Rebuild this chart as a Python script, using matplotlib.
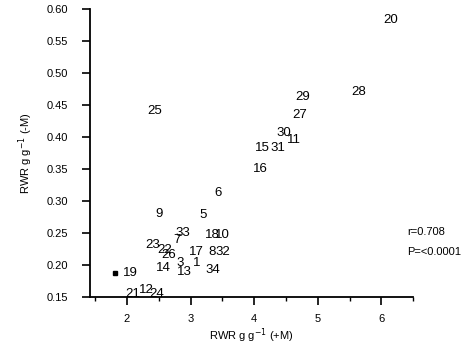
import matplotlib
matplotlib.use('Agg')
import matplotlib.pyplot as plt
from matplotlib.ticker import MultipleLocator

plt.rcParams['font.family'] = ['Liberation Sans', 'DejaVu Sans']

# point labels and their positions (RWR +M, RWR -M)
labels = ['20', '29', '28', '27', '25', '30', '11', '15', '31', '16',
          '6', '9', '5', '33', '7', '18', '10', '8', '32', '23',
          '22', '26', '17', '1', '3', '14', '13', '34', '19', '21',
          '12', '24']
rwr_plus = [6.14, 4.77, 5.64, 4.72, 2.43, 4.47, 4.63, 4.13, 4.38, 4.09,
            3.43, 2.50, 3.20, 2.88, 2.79, 3.34, 3.50, 3.34, 3.50, 2.41,
            2.60, 2.66, 3.09, 3.10, 2.83, 2.57, 2.90, 3.35, 2.05, 2.09,
            2.31, 2.47]
rwr_minus = [0.583, 0.462, 0.470, 0.434, 0.441, 0.406, 0.395, 0.383, 0.383, 0.350,
             0.312, 0.280, 0.278, 0.250, 0.239, 0.247, 0.247, 0.220, 0.220, 0.231,
             0.223, 0.216, 0.220, 0.203, 0.203, 0.195, 0.189, 0.192, 0.1875, 0.155,
             0.161, 0.155]

yticks = [0.15, 0.20, 0.25, 0.30, 0.35, 0.40, 0.45, 0.50, 0.55, 0.60]
xticks = [2, 3, 4, 5, 6]


def main() -> None:
    fig = plt.figure(figsize=(4.76, 3.52), dpi=100)
    ax = fig.add_axes([0.189, 0.156, 0.679, 0.818])

    for lab, x, y in zip(labels, rwr_plus, rwr_minus):
        ax.text(x, y, lab, ha='center', va='center', fontsize=9.5, color='black')
    # only point 19 carries a dot marker
    i19 = labels.index('19')
    ax.plot(rwr_plus[i19] - 0.24, rwr_minus[i19], 's', ms=2.5, color='black')

    ax.set_xlim(1.417, 6.5)
    ax.set_ylim(0.15, 0.60)
    ax.set_xticks(xticks)
    ax.set_xticklabels([str(t) for t in xticks])
    ax.xaxis.set_minor_locator(MultipleLocator(0.5))
    ax.set_yticks(yticks)
    ax.set_yticklabels(['%.2f' % t for t in yticks])
    ax.tick_params(axis='both', which='major', labelsize=8, length=6, width=1.2)
    ax.tick_params(axis='x', which='minor', length=3, width=1.0)
    ax.tick_params(axis='x', pad=6)
    ax.tick_params(axis='y', pad=10)

    for s in ['top', 'right']:
        ax.spines[s].set_visible(False)
    for s in ['left', 'bottom']:
        ax.spines[s].set_linewidth(1.3)

    ax.set_xlabel('RWR g g$^{-1}$ (+M)', fontsize=8, labelpad=2)
    ax.set_ylabel('RWR g g$^{-1}$ (-M)', fontsize=8, labelpad=8)

    ax.text(0.981, 0.225, 'r=0.708', transform=ax.transAxes, fontsize=8,
            ha='left', va='center')
    ax.text(0.981, 0.155, 'P=<0.0001', transform=ax.transAxes, fontsize=8,
            ha='left', va='center', clip_on=False)

    fig.savefig('out.png', dpi=100)


if __name__ == "__main__":
    main()
